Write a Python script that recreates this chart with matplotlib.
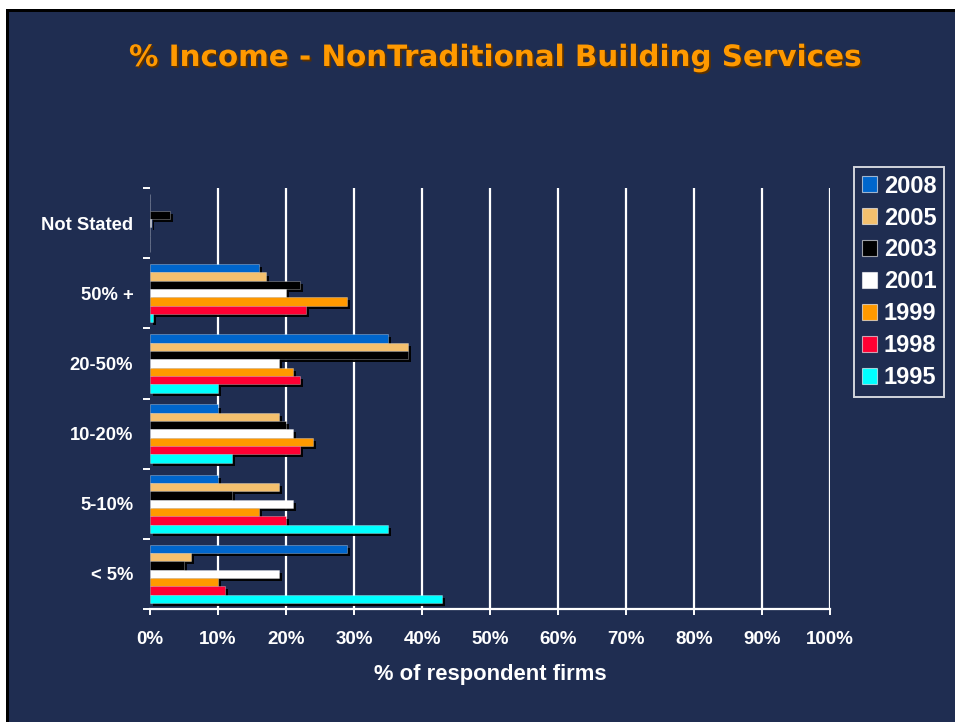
import matplotlib
matplotlib.use("Agg")
import matplotlib.pyplot as plt
import matplotlib.patheffects as pe
from matplotlib.patches import Rectangle, Patch
import numpy as np

# ---------------- data ----------------
categories = ["< 5%", "5-10%", "10-20%", "20-50%", "50% +", "Not Stated"]
years = ["2008", "2005", "2003", "2001", "1999", "1998", "1995"]
v2008 = [29, 10, 10, 35, 16, 0]
v2005 = [6, 19, 19, 38, 17, 0]
v2003 = [5, 12, 20, 38, 22, 3]
v2001 = [19, 21, 21, 19, 20, 0.2]
v1999 = [10, 16, 24, 21, 29, 0]
v1998 = [11, 20, 22, 22, 23, 0]
v1995 = [43, 35, 12, 10, 0.5, 0]
series = [v2008, v2005, v2003, v2001, v1999, v1998, v1995]
colors = ["#0066CC", "#F4C06E", "#000000", "#FFFFFF", "#FF9900", "#FF0033", "#00FFFF"]
xticks = [0, 10, 20, 30, 40, 50, 60, 70, 80, 90, 100]
xticklabels = [f"{t}%" for t in xticks]
title = "% Income - NonTraditional Building Services"
xlabel = "% of respondent firms"

BG = "#1F2D51"
W, H = 955, 722
fig = plt.figure(figsize=(W / 100, H / 100), dpi=100, facecolor=BG)

# white outer margins (left and top) and black border strips
fig.patches.append(Rectangle((0, 0), 6 / W, 1, transform=fig.transFigure,
                             facecolor="white", edgecolor="none", zorder=-10))
fig.patches.append(Rectangle((0, 1 - 9 / H), 1, 9 / H, transform=fig.transFigure,
                             facecolor="white", edgecolor="none", zorder=-10))
fig.patches.append(Rectangle((6 / W, 0), 3 / W, 1 - 9 / H, transform=fig.transFigure,
                             facecolor="black", edgecolor="none", zorder=-9))
fig.patches.append(Rectangle((6 / W, 1 - 12 / H), 1 - 6 / W, 3 / H, transform=fig.transFigure,
                             facecolor="black", edgecolor="none", zorder=-9))

ax = fig.add_axes([150 / W, 1 - 609 / H, 680 / W, (609 - 188) / H])
ax.set_facecolor("none")
ax.set_zorder(2)

n = len(years)
group_span = 0.83
h = group_span / n
y = np.arange(len(categories))
shadow = [pe.SimplePatchShadow(offset=(2.2, -2.2), shadow_rgbFace="black", alpha=0.95), pe.Normal()]
for j, (vals, col) in enumerate(zip(series, colors)):
    pos = y + (group_span / 2 - h / 2) - j * h
    bars = ax.barh(pos, vals, height=h, color=col, edgecolor=(1, 1, 1, 0.35),
                   linewidth=0.6, zorder=3)
    for b in bars:
        b.set_path_effects(shadow)

ax.set_xlim(0, 100)
ax.set_ylim(-0.5, len(categories) - 0.5)

# vertical white gridlines
ax.vlines(xticks[1:], -0.5, len(categories) - 0.5, color="white", linewidth=1.6, zorder=1)

for s in ["top", "right", "left"]:
    ax.spines[s].set_visible(False)
ax.spines["bottom"].set_color("white")
ax.spines["bottom"].set_linewidth(1.6)

ax.set_xticks(xticks)
ax.set_xticklabels(xticklabels)
ax.tick_params(axis="x", colors="white", length=4.5, width=1.4, pad=11,
               labelsize=13.5)
ax.set_yticks(y)
ax.set_yticklabels(categories)
ax.set_yticks(np.arange(-0.5, len(categories), 1), minor=True)
ax.tick_params(axis="y", which="major", length=0, pad=12, colors="white", labelsize=13.2)
ax.tick_params(axis="y", which="minor", length=5, width=1.4, colors="white")
for lab in ax.get_xticklabels() + ax.get_yticklabels():
    lab.set_fontfamily("Liberation Sans")
    lab.set_fontweight("bold")
    lab.set_color("white")

ax.set_xlabel(xlabel, color="white", fontsize=15.8, fontweight="bold",
              family="Liberation Sans", labelpad=12)

# title
t = fig.text(495 / W, 1 - 58 / H, title, ha="center", va="center", color="#FF9900",
             fontsize=22, family="DejaVu Sans", fontweight="bold",
             path_effects=[pe.SimplePatchShadow(offset=(1.3, -1.3), shadow_rgbFace="#5a3000", alpha=1),
                           pe.Normal()])
fig.canvas.draw()
bb = t.get_window_extent()
t.set_fontsize(22 * 730 / bb.width)

# legend
handles = [Patch(facecolor=c, edgecolor=(1, 1, 1, 0.6), linewidth=0.8) for c in colors]
leg = fig.legend(handles, years, loc="upper left", bbox_to_anchor=(854 / W, 1 - 167 / H),
                 borderaxespad=0, frameon=True, fancybox=False, facecolor=BG,
                 edgecolor="white", handlelength=0.64, handleheight=0.64,
                 handletextpad=0.3, labelspacing=0.38, borderpad=0.32,
                 prop={"family": "Liberation Sans", "weight": "bold", "size": 17})
leg.get_frame().set_linewidth(1.4)
for txt in leg.get_texts():
    txt.set_color("white")

fig.savefig("out.png", dpi=100, facecolor=fig.get_facecolor())
